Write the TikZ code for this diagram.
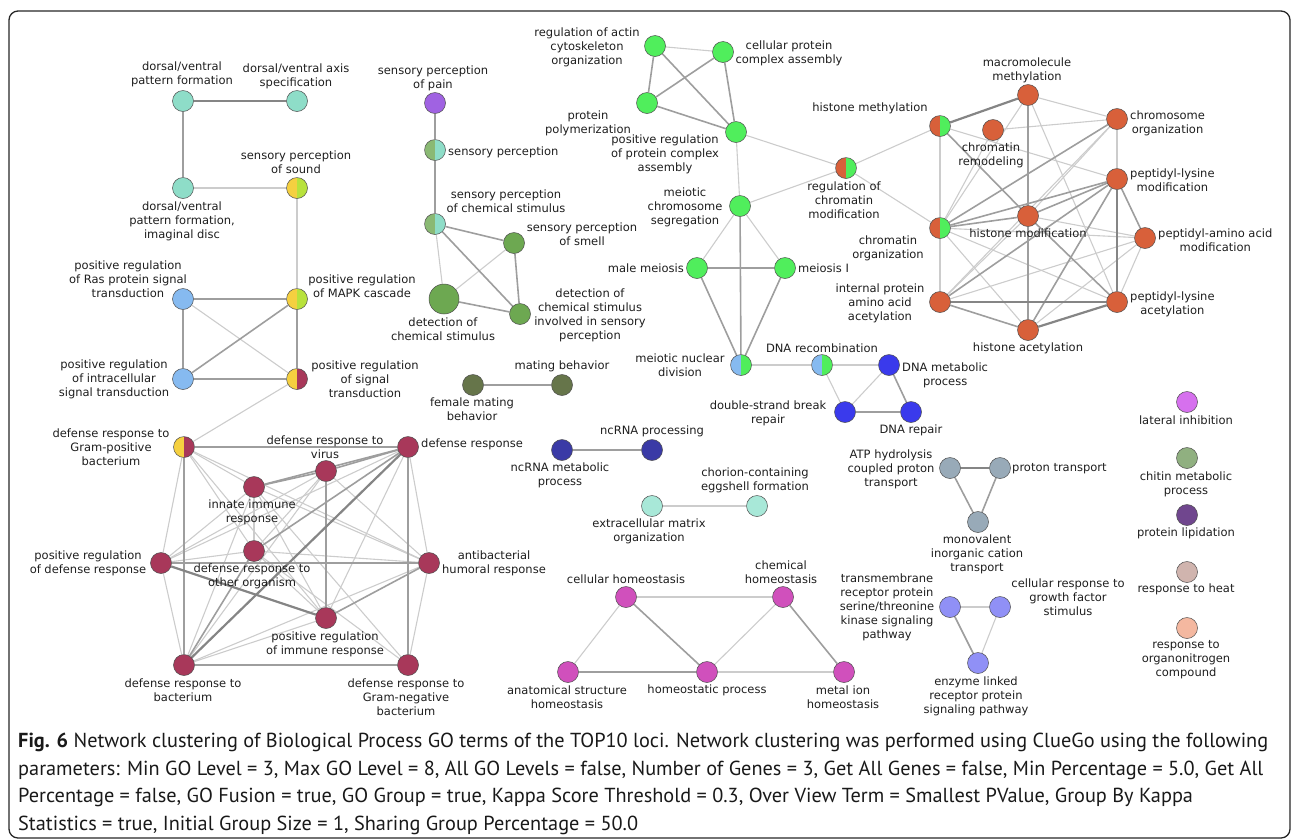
\documentclass[tikz,border=0pt]{standalone}
\usepackage{fontspec}
\setmainfont{DejaVu Sans}
\newfontfamily\capfont{PT Sans}
\usepackage{tikz}
\usetikzlibrary{backgrounds}
\usepackage{tkz-berge}

\definecolor{dvteal}{HTML}{8EDDC8}
\definecolor{sndyellow}{HTML}{F5D040}
\definecolor{sndlime}{HTML}{B8E23C}
\definecolor{raslblue}{HTML}{86BAF0}
\definecolor{defred}{HTML}{A8385A}
\definecolor{protgreen}{HTML}{50EE5C}
\definecolor{smellgreen}{HTML}{6DA851}
\definecolor{painpurple}{HTML}{A062E2}
\definecolor{mateolive}{HTML}{66754A}
\definecolor{chromorange}{HTML}{D8603A}
\definecolor{dnablue}{HTML}{3A3AEC}
\definecolor{ncnavy}{HTML}{3A3AA6}
\definecolor{chorteal}{HTML}{A8E8D8}
\definecolor{homeopink}{HTML}{D050BC}
\definecolor{protongray}{HTML}{98AAB8}
\definecolor{kinaselav}{HTML}{9090F6}
\definecolor{latviolet}{HTML}{D670EE}
\definecolor{chitgreen}{HTML}{90B080}
\definecolor{lipidpurple}{HTML}{70468E}
\definecolor{heatrose}{HTML}{D0B4AE}
\definecolor{nitropeach}{HTML}{F4B8A0}
\definecolor{textdark}{HTML}{1E1E1E}

\begin{document}
\begin{tikzpicture}[x=1pt, y=-1pt,
  main node/.style={circle, draw=black!70, line width=0.5pt, minimum size=21pt, inner sep=0pt},
  split node/.style 2 args={main node, path picture={
      \fill[#1] (path picture bounding box.south west) rectangle (path picture bounding box.north);
      \fill[#2] (path picture bounding box.south) rectangle (path picture bounding box.north east);}},
  term/.style={font=\fontsize{11.5}{14}\selectfont, text=textdark, align=center, inner sep=0pt}]

			\useasboundingbox (0,0) rectangle (1293,839);
			\draw[line width=1.3pt, black!85, rounded corners=9pt] (9,11) rectangle (1290,838);

			% dorsal/ventral and signal transduction
			\node[main node, fill=dvteal] (dvpf) at (183,101) {};
			\node[main node, fill=dvteal] (dvas) at (297,101) {};
			\node[main node, fill=dvteal] (dvpfid) at (183,188) {};
			\node[split node={sndyellow}{sndlime}] (sps) at (297,188) {};
			\node[main node, fill=raslblue] (pRas) at (183,299) {};
			\node[split node={sndyellow}{sndlime}] (pMAPK) at (297,299) {};
			\node[main node, fill=raslblue] (pIntra) at (183,379) {};
			\node[split node={sndyellow}{defred}] (pSig) at (297,379) {};

			\node[term] (dvpf-t) at (182,74.5) {dorsal/ventral\\pattern formation};
			\node[term] (dvas-t) at (296,76) {dorsal/ventral axis\\specification};
			\node[term] (dvpfid-t) at (182,221) {dorsal/ventral\\pattern formation,\\imaginal disc};
			\node[term] (sps-t) at (296,162.5) {sensory perception\\of sound};
			\node[term] (pRas-t) at (128,279) {positive regulation\\of Ras protein signal\\transduction};
			\node[term] (pMAPK-t) at (362,286) {positive regulation\\of MAPK cascade};
			\node[term] (pIntra-t) at (114,379) {positive regulation\\of intracellular\\signal transduction};
			\node[term] (pSig-t) at (365,379) {positive regulation\\of signal\\transduction};

			% sensory perception
			\node[main node, fill=painpurple] (spp) at (435,103) {};
			\node[split node={smellgreen!80!white}{dvteal}] (sp) at (435,150) {};
			\node[split node={smellgreen!80!white}{dvteal}] (spcs) at (435,224) {};
			\node[main node, fill=smellgreen] (spsm) at (514,243) {};
			\node[main node, fill=smellgreen, minimum size=30pt] (dcs) at (444,299) {};
			\node[main node, fill=smellgreen] (dcsisp) at (520,314) {};
			\node[main node, fill=mateolive] (fmb) at (473,385) {};
			\node[main node, fill=mateolive] (mb) at (562,385) {};

			\node[term] (spp-t) at (433,78) {sensory perception\\of pain};
			\node[term, anchor=west] (sp-t) at (448,152) {sensory perception};
			\node[term] (spcs-t) at (506,201) {sensory perception\\of chemical stimulus};
			\node[term] (spsm-t) at (582,234) {sensory perception\\of smell};
			\node[term] (dcs-t) at (443,329) {detection of\\chemical stimulus};
			\node[term] (dcsisp-t) at (590,315) {detection of\\chemical stimulus\\involved in sensory\\perception};
			\node[term] (fmb-t) at (472,409) {female mating\\behavior};
			\node[term] (mb-t) at (562,366) {mating behavior};

			% protein complex and meiosis
			\node[main node, fill=protgreen] (raco) at (655,46) {};
			\node[main node, fill=protgreen] (cpca) at (723,52) {};
			\node[main node, fill=protgreen] (pp) at (647,103) {};
			\node[main node, fill=protgreen] (prpca) at (736,132) {};
			\node[split node={chromorange}{protgreen}] (rcm) at (846,168) {};
			\node[main node, fill=protgreen] (mcs) at (740,206) {};
			\node[main node, fill=protgreen] (mm) at (697,268) {};
			\node[main node, fill=protgreen] (mI) at (785,268) {};
			\node[split node={raslblue}{protgreen}] (mnd) at (741,365) {};
			\node[split node={raslblue}{protgreen}] (dnarec) at (822,365) {};
			\node[main node, fill=dnablue] (dnamp) at (889,365) {};
			\node[main node, fill=dnablue] (dsbr) at (845,412) {};
			\node[main node, fill=dnablue] (dnarep) at (911,412) {};

			\node[term] (raco-t) at (587,47) {regulation of actin\\cytoskeleton\\organization};
			\node[term] (cpca-t) at (789,53) {cellular protein\\complex assembly};
			\node[term] (pp-t) at (588,123) {protein\\polymerization};
			\node[term] (prpca-t) at (665,154) {positive regulation\\of protein complex\\assembly};
			\node[term] (rcm-t) at (844,200.5) {regulation of\\chromatin\\modification};
			\node[term] (mcs-t) at (685,207) {meiotic\\chromosome\\segregation};
			\node[term, anchor=east] (mm-t) at (684,268) {male meiosis};
			\node[term, anchor=west] (mI-t) at (798,268) {meiosis I};
			\node[term] (mnd-t) at (680,365) {meiotic nuclear\\division};
			\node[term] (dnarec-t) at (822,348) {DNA recombination};
			\node[term, anchor=west] (dnamp-t) at (902,375) {DNA metabolic\\process};
			\node[term] (dsbr-t) at (768,413) {double-strand break\\repair};
			\node[term] (dnarep-t) at (911,430) {DNA repair};

			% chromatin and histones
			\node[split node={chromorange}{protgreen}] (hmeth) at (940,126) {};
			\node[main node, fill=chromorange] (mm2) at (1028,95) {};
			\node[main node, fill=chromorange] (cr) at (993,130) {};
			\node[main node, fill=chromorange] (corg) at (1117,119) {};
			\node[main node, fill=chromorange] (plm) at (1117,179) {};
			\node[main node, fill=chromorange] (hmod) at (1028,216) {};
			\node[split node={chromorange}{protgreen}] (co) at (940,228) {};
			\node[main node, fill=chromorange] (pam) at (1145,238) {};
			\node[main node, fill=chromorange] (ipaa) at (940,302) {};
			\node[main node, fill=chromorange] (pla) at (1117,302) {};
			\node[main node, fill=chromorange] (hac) at (1028,330) {};

			\node[term] (hmeth-t) at (870,108) {histone methylation};
			\node[term] (mm2-t) at (1027,70) {macromolecule\\methylation};
			\node[term] (cr-t) at (991,155) {chromatin\\remodeling};
			\node[term, anchor=west] (corg-t) at (1130,123) {chromosome\\organization};
			\node[term, anchor=west] (plm-t) at (1130,180) {peptidyl-lysine\\modification};
			\node[term] (hmod-t) at (1028,233) {histone modification};
			\node[term] (co-t) at (888,248) {chromatin\\organization};
			\node[term, anchor=west] (pam-t) at (1158,240) {peptidyl-amino acid\\modification};
			\node[term] (ipaa-t) at (880,303) {internal protein\\amino acid\\acetylation};
			\node[term, anchor=west] (pla-t) at (1130,304) {peptidyl-lysine\\acetylation};
			\node[term] (hac-t) at (1028,348) {histone acetylation};

			% defense response
			\node[split node={sndyellow}{defred}] (dGramP) at (184,447) {};
			\node[main node, fill=defred] (dVirus) at (326,471) {};
			\node[main node, fill=defred] (dResp) at (408,447) {};
			\node[main node, fill=defred] (innate) at (254,487) {};
			\node[main node, fill=defred] (pdr) at (161,563) {};
			\node[main node, fill=defred] (dOther) at (254,551) {};
			\node[main node, fill=defred] (antib) at (429,563) {};
			\node[main node, fill=defred] (pir) at (326,618) {};
			\node[main node, fill=defred] (dBact) at (184,665) {};
			\node[main node, fill=defred] (dGramN) at (408,665) {};

			\node[term] (dGramP-t) at (111,447.5) {defense response to\\Gram-positive\\bacterium};
			\node[term] (dVirus-t) at (325,447) {defense response to\\virus};
			\node[term, anchor=west] (dResp-t) at (421,444) {defense response};
			\node[term] (innate-t) at (252,512) {innate immune\\response};
			\node[term] (pdr-t) at (88,563) {positive regulation\\of defense response};
			\node[term] (dOther-t) at (252,576) {defense response to\\other organism};
			\node[term] (antib-t) at (494,563) {antibacterial\\humoral response};
			\node[term] (pir-t) at (325,644) {positive regulation\\of immune response};
			\node[term] (dBact-t) at (183,690) {defense response to\\bacterium};
			\node[term] (dGramN-t) at (406,697) {defense response to\\Gram-negative\\bacterium};

			% small groups
			\node[main node, fill=ncnavy] (ncmp) at (562,450) {};
			\node[main node, fill=ncnavy] (ncp) at (652,450) {};
			\node[main node, fill=chorteal] (ecm) at (652,506) {};
			\node[main node, fill=chorteal] (chor) at (757,506) {};
			\node[main node, fill=homeopink] (ch) at (626,597) {};
			\node[main node, fill=homeopink] (chem) at (783,597) {};
			\node[main node, fill=homeopink] (ash) at (568,672) {};
			\node[main node, fill=homeopink] (hp) at (707,672) {};
			\node[main node, fill=homeopink] (mih) at (844,672) {};
			\node[main node, fill=protongray] (atp) at (950,468) {};
			\node[main node, fill=protongray] (pt) at (1000,468) {};
			\node[main node, fill=protongray] (mic) at (978,522) {};
			\node[main node, fill=kinaselav] (tm) at (950,607) {};
			\node[main node, fill=kinaselav] (crgf) at (1000,607) {};
			\node[main node, fill=kinaselav] (el) at (978,663) {};

			\node[term] (ncmp-t) at (560,475) {ncRNA metabolic\\process};
			\node[term] (ncp-t) at (652,431) {ncRNA processing};
			\node[term] (ecm-t) at (649,531) {extracellular matrix\\organization};
			\node[term] (chor-t) at (755,480) {chorion-containing\\eggshell formation};
			\node[term] (ch-t) at (626,579) {cellular homeostasis};
			\node[term] (chem-t) at (781,572) {chemical\\homeostasis};
			\node[term] (ash-t) at (567,697) {anatomical structure\\homeostasis};
			\node[term] (hp-t) at (707,690) {homeostatic process};
			\node[term] (mih-t) at (843,697) {metal ion\\homeostasis};
			\node[term] (atp-t) at (891,469) {ATP hydrolysis\\coupled proton\\transport};
			\node[term, anchor=west] (pt-t) at (1012,469) {proton transport};
			\node[term] (mic-t) at (977,554) {monovalent\\inorganic cation\\transport};
			\node[term] (tm-t) at (887,607) {transmembrane\\receptor protein\\serine/threonine\\kinase signaling\\pathway};
			\node[term] (crgf-t) at (1068,597) {cellular response to\\growth factor\\stimulus};
			\node[term] (el-t) at (976,696) {enzyme linked\\receptor protein\\signaling pathway};

			% single terms
			\node[main node, fill=latviolet] (li) at (1187,402) {};
			\node[main node, fill=chitgreen] (chitin) at (1187,458) {};
			\node[main node, fill=lipidpurple] (lipid) at (1187,515) {};
			\node[main node, fill=heatrose] (heat) at (1187,572) {};
			\node[main node, fill=nitropeach] (organo) at (1187,628) {};

			\node[term] (li-t) at (1186,420) {lateral inhibition};
			\node[term] (chitin-t) at (1186,484) {chitin metabolic\\process};
			\node[term] (lipid-t) at (1186,533) {protein lipidation};
			\node[term] (heat-t) at (1186,589) {response to heat};
			\node[term] (organo-t) at (1186,660) {response to\\organonitrogen\\compound};

			\begin{pgfonlayer}{background}
			% draw weak links
			\tikzstyle{EdgeStyle}=[-, line width=1.1pt, black!20]
			\Edge[](dvpfid)(sps)
			\Edge[](sps)(pMAPK)
			\Edge[](pRas)(pSig)
			\Edge[](pSig)(dGramP)
			\Edge[](spcs)(dcs)
			\Edge[](spsm)(dcs)
			\Edge[](raco)(cpca)
			\Edge[](prpca)(mcs)
			\Edge[](prpca)(rcm)
			\Edge[](mcs)(rcm)
			\Edge[](rcm)(hmeth)
			\Edge[](rcm)(co)
			\Edge[](mcs)(mm)
			\Edge[](mcs)(mI)
			\Edge[](mnd)(dnarec)
			\Edge[](dnarec)(dnamp)
			\Edge[](dnarec)(dsbr)
			\Edge[](dnamp)(dsbr)
			\Edge[](hmeth)(co)
			\Edge[](hmeth)(plm)
			\Edge[](cr)(corg)
			\Edge[](cr)(co)
			\Edge[](mm2)(co)
			\Edge[](mm2)(corg)
			\Edge[](mm2)(pla)
			\Edge[](corg)(plm)
			\Edge[](corg)(hmod)
			\Edge[](corg)(ipaa)
			\Edge[](co)(ipaa)
			\Edge[](co)(pam)
			\Edge[](co)(pla)
			\Edge[](co)(hac)
			\Edge[](hmod)(pam)
			\Edge[](hmod)(ipaa)
			\Edge[](pam)(ipaa)
			\Edge[](pam)(pla)
			\Edge[](pam)(hac)
			\Edge[](dGramP)(innate)
			\Edge[](dGramP)(dOther)
			\Edge[](dGramP)(pir)
			\Edge[](dGramP)(antib)
			\Edge[](dGramP)(pdr)
			\Edge[](dResp)(pdr)
			\Edge[](dResp)(pir)
			\Edge[](dResp)(antib)
			\Edge[](dVirus)(pdr)
			\Edge[](dVirus)(dBact)
			\Edge[](dVirus)(antib)
			\Edge[](dVirus)(dOther)
			\Edge[](innate)(pdr)
			\Edge[](innate)(dOther)
			\Edge[](innate)(pir)
			\Edge[](innate)(dBact)
			\Edge[](innate)(antib)
			\Edge[](innate)(dGramN)
			\Edge[](pdr)(dOther)
			\Edge[](pdr)(dBact)
			\Edge[](dOther)(antib)
			\Edge[](dOther)(pir)
			\Edge[](dOther)(dGramN)
			\Edge[](antib)(dBact)
			\Edge[](antib)(dGramN)
			\Edge[](pir)(dBact)
			\Edge[](ch)(chem)
			\Edge[](ch)(ash)
			\Edge[](chem)(hp)
			\Edge[](hp)(mih)
			\Edge[](ecm)(chor)
			\Edge[](tm)(crgf)
			\Edge[](crgf)(el)

			% draw medium links
			\tikzstyle{EdgeStyle}=[-, line width=1.6pt, black!38]
			\Edge[](dvpf)(dvpfid)
			\Edge[](pRas)(pMAPK)
			\Edge[](pRas)(pIntra)
			\Edge[](pIntra)(pMAPK)
			\Edge[](pIntra)(pSig)
			\Edge[](pMAPK)(pSig)
			\Edge[](spp)(sp)
			\Edge[](sp)(spcs)
			\Edge[](spcs)(spsm)
			\Edge[](spcs)(dcsisp)
			\Edge[](spsm)(dcsisp)
			\Edge[](dcs)(dcsisp)
			\Edge[](fmb)(mb)
			\Edge[](raco)(pp)
			\Edge[](raco)(prpca)
			\Edge[](cpca)(pp)
			\Edge[](cpca)(prpca)
			\Edge[](pp)(prpca)
			\Edge[](mcs)(mnd)
			\Edge[](mm)(mI)
			\Edge[](mm)(mnd)
			\Edge[](mI)(mnd)
			\Edge[](dnamp)(dnarep)
			\Edge[](dsbr)(dnarep)
			\Edge[](hmeth)(hmod)
			\Edge[](mm2)(hmod)
			\Edge[](hmod)(hac)
			\Edge[](corg)(co)
			\Edge[](plm)(co)
			\Edge[](plm)(hmod)
			\Edge[](plm)(pam)
			\Edge[](plm)(ipaa)
			\Edge[](plm)(hac)
			\Edge[](hmod)(co)
			\Edge[](hmod)(pla)
			\Edge[](ipaa)(hac)
			\Edge[](dGramP)(dResp)
			\Edge[](dGramP)(dBact)
			\Edge[](dResp)(dVirus)
			\Edge[](dResp)(innate)
			\Edge[](dResp)(dOther)
			\Edge[](dResp)(dGramN)
			\Edge[](dVirus)(innate)
			\Edge[](dVirus)(pir)
			\Edge[](pdr)(antib)
			\Edge[](dOther)(dBact)
			\Edge[](antib)(pir)
			\Edge[](dBact)(dGramN)
			\Edge[](ch)(hp)
			\Edge[](ash)(hp)
			\Edge[](chem)(mih)
			\Edge[](ncmp)(ncp)
			\Edge[](atp)(mic)
			\Edge[](pt)(mic)
			\Edge[](tm)(el)

			% draw strong links
			\tikzstyle{EdgeStyle}=[-, line width=2.2pt, black!48]
			\Edge[](dvpf)(dvas)
			\Edge[](hmeth)(mm2)
			\Edge[](plm)(pla)
			\Edge[](ipaa)(pla)
			\Edge[](pla)(hac)
			\Edge[](dResp)(dBact)
			\Edge[](pdr)(pir)
			\Edge[](atp)(pt)
			\end{pgfonlayer}

			% figure caption
			\node[anchor=north west, align=left, inner sep=0pt, text=black!90, font=\capfont\fontsize{20.3}{27.6}\selectfont] (caption) at (18,733) {\textbf{Fig. 6} Network clustering of Biological Process GO terms of the TOP10 loci. Network clustering was performed using ClueGo using the following\\parameters: Min GO Level = 3, Max GO Level = 8, All GO Levels = false, Number of Genes = 3, Get All Genes = false, Min Percentage = 5.0, Get All\\Percentage = false, GO Fusion = true, GO Group = true, Kappa Score Threshold = 0.3, Over View Term = Smallest PValue, Group By Kappa\\Statistics = true, Initial Group Size = 1, Sharing Group Percentage = 50.0};

		\end{tikzpicture}
\end{document}
